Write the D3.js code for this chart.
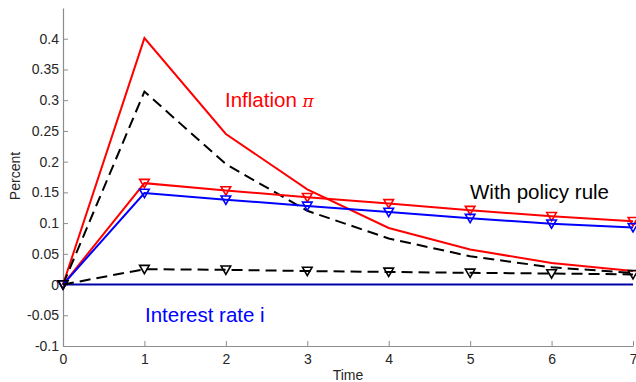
<!DOCTYPE html>
<html>
<head>
<meta charset="utf-8">
<script src="https://cdn.jsdelivr.net/npm/d3@7"></script>
<style>
  body { margin: 0; background: #fff; }
  text { font-family: "Liberation Sans", Arial, Helvetica, sans-serif; }
</style>
</head>
<body>
<svg width="636" height="382"></svg>
<script>
// periods on the x axis
const time = [0, 1, 2, 3, 4, 5, 6, 7];

// inflation and price level paths
const inflationNoRule = [0, 0.401, 0.245, 0.155, 0.092, 0.057, 0.035, 0.022];
const dashedNoRule = [0, 0.314, 0.196, 0.120, 0.075, 0.046, 0.028, 0.019];
const inflationRule = [0, 0.165, 0.153, 0.142, 0.132, 0.121, 0.111, 0.103];
const interestRule = [0, 0.149, 0.138, 0.128, 0.118, 0.108, 0.099, 0.093];
const dashedRule = [0, 0.025, 0.024, 0.022, 0.0205, 0.019, 0.018, 0.0165];
const interestNoRule = [0, 0, 0, 0, 0, 0, 0, 0];

const yTicks = [-0.1, -0.05, 0, 0.05, 0.1, 0.15, 0.2, 0.25, 0.3, 0.35, 0.4];

const svg = d3.select("svg");
const margin = {left: 63, right: 3, top: 8, bottom: 36};
const W = 636, H = 382;

const x = d3.scaleLinear().domain([0, 7]).range([margin.left, W - margin.right]);
const y = d3.scaleLinear().domain([-0.1, 0.45]).range([H - margin.bottom, margin.top]);

const axisColor = "#262626";

// axes (MATLAB style: ticks inside)
const xAxis = svg.append("g")
  .attr("transform", `translate(0,${y(-0.1)})`)
  .call(d3.axisBottom(x).tickValues(time).tickFormat(d3.format("d")).tickSizeInner(-5).tickSizeOuter(0).tickPadding(8));
const yAxis = svg.append("g")
  .attr("transform", `translate(${x(0)},0)`)
  .call(d3.axisLeft(y).tickValues(yTicks).tickFormat(d => String(+d.toFixed(2))).tickSizeInner(-5).tickSizeOuter(0).tickPadding(4));

[xAxis, yAxis].forEach(a => {
  a.select(".domain").attr("stroke", "#8c8c8c").attr("stroke-width", 1.2);
  a.selectAll(".tick line").attr("stroke", "#8c8c8c");
  a.selectAll("text").attr("fill", axisColor).attr("font-size", 14)
    .attr("font-family", "Liberation Sans, Arial, sans-serif");
});
// last x label sits on the edge, keep it inside
xAxis.selectAll(".tick text").filter(d => d === 7).attr("text-anchor", "end").attr("dx", 4);

svg.append("text")
  .attr("x", 348).attr("y", 380)
  .attr("text-anchor", "middle").attr("font-size", 14).attr("fill", axisColor)
  .text("Time");
svg.append("text")
  .attr("transform", `translate(20,176) rotate(-90)`)
  .attr("text-anchor", "middle").attr("font-size", 14).attr("fill", axisColor)
  .text("Percent");

const line = d3.line().x((d, i) => x(time[i])).y(d => y(d));

function series(values, color, dash, marker) {
  svg.append("path")
    .datum(values)
    .attr("d", line)
    .attr("fill", "none")
    .attr("stroke", color)
    .attr("stroke-width", 2)
    .attr("stroke-dasharray", dash || null);
  if (marker) {
    const tri = d3.symbol().type(d3.symbolTriangle).size(40);
    svg.append("g").selectAll("path")
      .data(values)
      .join("path")
      .attr("d", tri)
      .attr("transform", (d, i) => `translate(${x(time[i])},${y(d) - 1}) rotate(180)`)
      .attr("fill", "none")
      .attr("stroke", color)
      .attr("stroke-width", 1.6);
  }
}

series(interestNoRule, "#0000a8", null, false);
series(inflationNoRule, "#ff0000", null, false);
series(dashedNoRule, "#000000", "11,6", false);
series(inflationRule, "#ff0000", null, true);
series(interestRule, "#0000ff", null, true);
series(dashedRule, "#000000", "11,6", true);

// annotations
const infl = svg.append("text")
  .attr("x", 225).attr("y", 107)
  .attr("font-size", 20.5).attr("fill", "#ff0000")
  .text("Inflation ");
infl.append("tspan")
  .attr("font-family", "DejaVu Serif, serif").attr("font-style", "italic")
  .attr("font-size", 17)
  .text("π");

svg.append("text")
  .attr("x", 470).attr("y", 199)
  .attr("font-size", 20.5).attr("fill", "#000")
  .text("With policy rule");

svg.append("text")
  .attr("x", 145).attr("y", 322)
  .attr("font-size", 20.5).attr("fill", "#0000ff")
  .text("Interest rate i");
</script>
</body>
</html>
